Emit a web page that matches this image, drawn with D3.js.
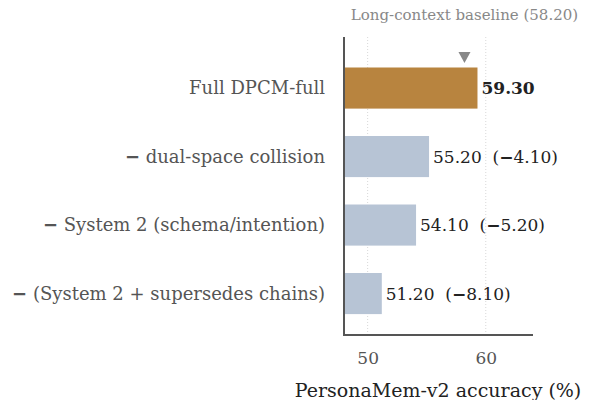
<!DOCTYPE html>
<html>
<head>
<meta charset="utf-8">
<script src="https://cdn.jsdelivr.net/npm/d3@7"></script>
<style>
  body { margin: 0; background: #fff; }
  text { font-family: "DejaVu Serif", serif; }
</style>
</head>
<body>
<svg id="chart" width="589" height="400"></svg>
<script>
// data
var labels = ["Full DPCM-full", "\u2212 dual-space collision", "\u2212 System 2 (schema/intention)", "\u2212 (System 2 + supersedes chains)"];
var scores = [59.30, 55.20, 54.10, 51.20];
var deltas = [null, -4.10, -5.20, -8.10];
var baseline = 58.20;
var xTicks = [50, 60];

var plotLeft = 344, plotRight = 533, plotTop = 37, plotBottom = 335;

const svg = d3.select("#chart");

const x = d3.scaleLinear().domain([48, 64]).range([plotLeft, plotRight]);
const y = d3.scaleBand()
  .domain(labels)
  .range([53.8, 327.8])
  .paddingInner(0.4)
  .paddingOuter(0.2);

// write text, minus signs drawn heavier like the original
function withMinus(sel, str) {
  var parts = str.split("\u2212");
  parts.forEach(function(p, k) {
    if (k > 0) sel.append("tspan").style("font-family", "DejaVu Sans").style("font-weight", "bold").text("\u2212");
    if (p) sel.append("tspan").text(p);
  });
}

// dotted grid
svg.selectAll(".grid")
  .data(xTicks)
  .join("line")
  .attr("x1", d => x(d)).attr("x2", d => x(d))
  .attr("y1", plotTop).attr("y2", plotBottom)
  .attr("stroke", "#d8d8d8")
  .attr("stroke-width", 1)
  .attr("stroke-dasharray", "1,2");

// bars
svg.selectAll(".bar")
  .data(labels)
  .join("rect")
  .attr("x", x(48))
  .attr("y", d => y(d))
  .attr("width", (d, i) => x(scores[i]) - x(48))
  .attr("height", y.bandwidth())
  .attr("fill", (d, i) => i == 0 ? "#b8843f" : "#b7c4d5");

// axes
svg.append("g")
  .attr("transform", `translate(0,${plotBottom})`)
  .call(d3.axisBottom(x).tickValues(xTicks).tickSize(0).tickPadding(17))
  .call(g => g.select(".domain").remove())
  .selectAll("text")
  .style("font-family", "DejaVu Serif")
  .style("font-size", "17px")
  .attr("fill", "#555");

svg.append("line")
  .attr("x1", plotLeft).attr("x2", plotRight)
  .attr("y1", plotBottom).attr("y2", plotBottom)
  .attr("stroke", "#555").attr("stroke-width", 2);
svg.append("line")
  .attr("x1", plotLeft).attr("x2", plotLeft)
  .attr("y1", plotTop).attr("y2", plotBottom + 1)
  .attr("stroke", "#555").attr("stroke-width", 2);

// category labels
svg.selectAll(".cat")
  .data(labels)
  .join("text")
  .attr("x", 325)
  .attr("y", d => y(d) + y.bandwidth() / 2)
  .attr("dy", "0.35em")
  .attr("text-anchor", "end")
  .attr("fill", "#555")
  .style("font-size", "18px")
  .each(function(d) { withMinus(d3.select(this), d); });

// value labels
svg.selectAll(".val")
  .data(labels)
  .join("text")
  .attr("x", (d, i) => x(scores[i]) + 4)
  .attr("y", d => y(d) + y.bandwidth() / 2)
  .attr("dy", "0.35em")
  .attr("fill", "#222")
  .style("font-size", "17px")
  .style("font-weight", (d, i) => i == 0 ? "bold" : "normal")
  .style("white-space", "pre")
  .each(function(d, i) {
    var s = deltas[i] == null ? scores[i].toFixed(2)
      : scores[i].toFixed(2) + "  (\u2212" + Math.abs(deltas[i]).toFixed(2) + ")";
    withMinus(d3.select(this), s);
  });

// baseline marker
const bx = x(baseline);
svg.append("path")
  .attr("d", `M${bx - 6},52 L${bx + 6},52 L${bx},63 Z`)
  .attr("fill", "#888");

svg.append("text")
  .attr("x", bx)
  .attr("y", 20)
  .attr("text-anchor", "middle")
  .attr("fill", "#888")
  .style("font-size", "15px")
  .text("Long-context baseline (" + baseline.toFixed(2) + ")");

// x label
svg.append("text")
  .attr("x", 438)
  .attr("y", 397)
  .attr("text-anchor", "middle")
  .attr("fill", "#222")
  .style("font-size", "19px")
  .text("PersonaMem-v2 accuracy (%)");
</script>
</body>
</html>
